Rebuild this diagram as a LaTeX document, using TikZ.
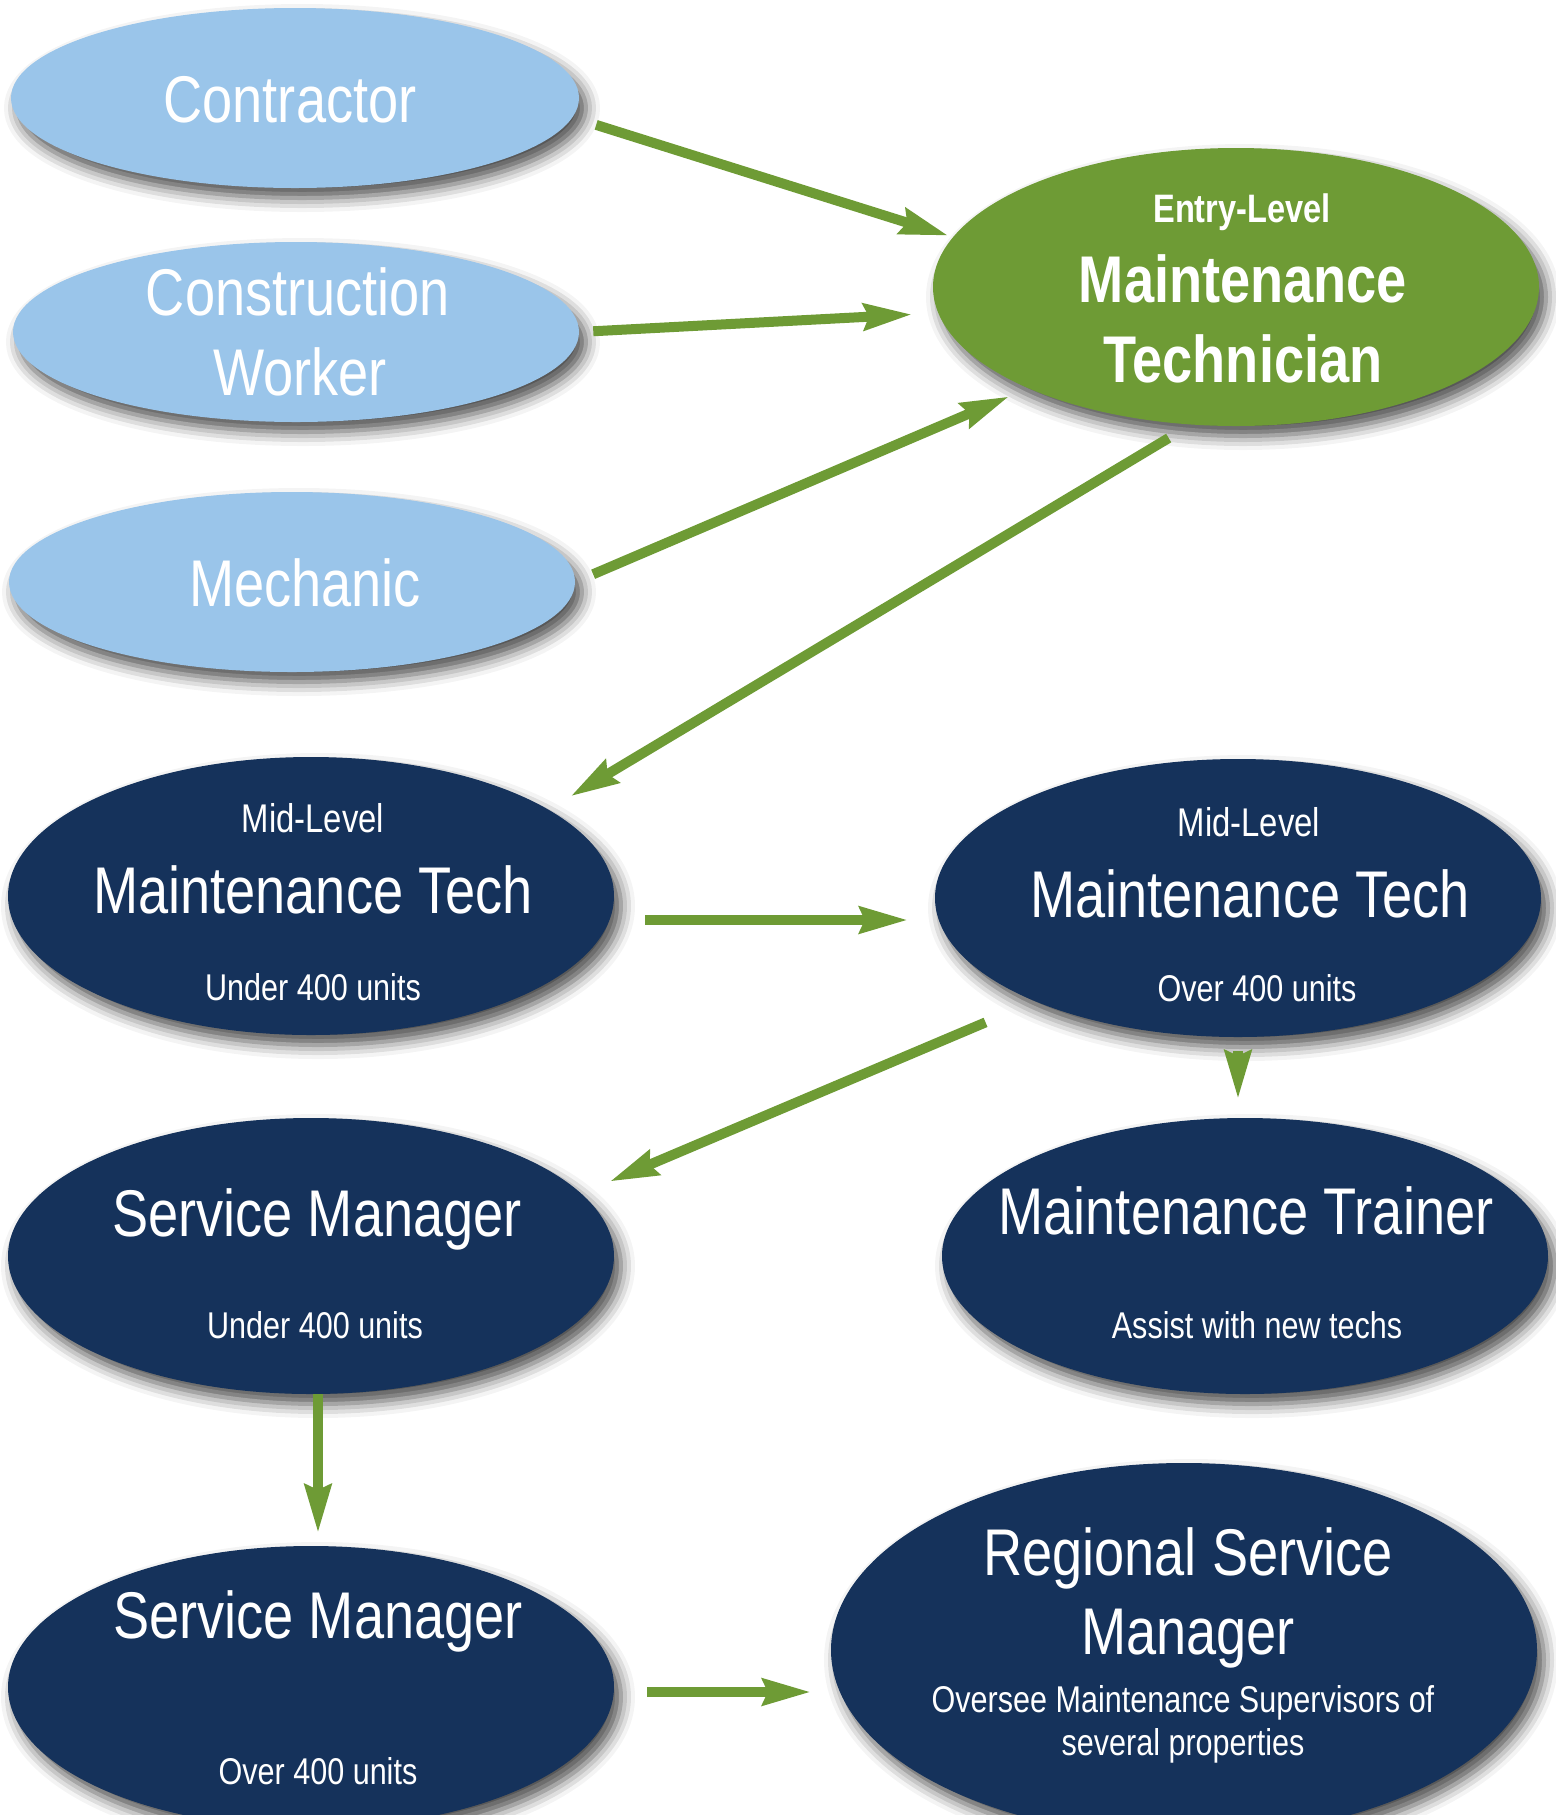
\documentclass[tikz,border=0pt]{standalone}
\usepackage{fontspec}
\setmainfont{Liberation Sans}[FakeStretch=0.82]
\usepackage{tikz}
\usetikzlibrary{arrows.meta,shapes.geometric,shadows.blur}

\definecolor{skyblue}{HTML}{9AC5EA}
\definecolor{leafgreen}{HTML}{6E9B35}
\definecolor{deepnavy}{HTML}{15325B}

\begin{document}
\begin{tikzpicture}[
    bubble/.style={ellipse, inner sep=0pt, outer sep=0pt,
      blur shadow={shadow xshift=0.07cm, shadow yshift=-0.1cm,
        shadow blur radius=0.14cm, shadow opacity=70}},
    big/.style={text=white, inner sep=0pt, anchor=base,
      font=\fontsize{18.8}{22}\selectfont},
    small/.style={text=white, inner sep=0pt, anchor=base,
      font=\fontsize{10.6}{12}\selectfont},
    tiny/.style={text=white, inner sep=0pt, anchor=base,
      font=\fontsize{10.6}{12}\selectfont},
    flow/.style={draw=leafgreen, line width=0.1cm,
      -{Stealth[length=0.48cm,width=0.26cm,inset=0.05cm]}}
  ]

  \useasboundingbox (0,0) rectangle (15.56,-18.15);

  % Draw the entry points
  \node[bubble, fill=skyblue, minimum width=5.68cm, minimum height=1.80cm] (con) at (2.95,-0.98) {};
  \node[bubble, fill=skyblue, minimum width=5.66cm, minimum height=1.80cm] (cons) at (2.96,-3.32) {};
  \node[bubble, fill=skyblue, minimum width=5.66cm, minimum height=1.80cm] (mech) at (2.92,-5.82) {};

  % Draw the career steps
  \node[bubble, fill=leafgreen, minimum width=6.06cm, minimum height=2.78cm] (entry) at (12.36,-2.87) {};
  \node[bubble, fill=deepnavy, minimum width=6.06cm, minimum height=2.78cm] (midlo) at (3.11,-8.96) {};
  \node[bubble, fill=deepnavy, minimum width=6.06cm, minimum height=2.78cm] (midhi) at (12.38,-8.98) {};
  \node[bubble, fill=deepnavy, minimum width=6.06cm, minimum height=2.76cm] (svclo) at (3.11,-12.56) {};
  \node[bubble, fill=deepnavy, minimum width=6.06cm, minimum height=2.76cm] (trainer) at (12.45,-12.56) {};
  \node[bubble, fill=deepnavy, minimum width=6.06cm, minimum height=2.82cm] (svchi) at (3.11,-16.87) {};
  \node[bubble, fill=deepnavy, minimum width=7.06cm, minimum height=3.74cm] (region) at (11.84,-16.50) {};

  % Add the labels
  \node[big] (conA) at (2.90,-1.22) {Contractor};
  \node[big] (consA) at (2.98,-3.15) {Construction};
  \node[big] (consB) at (3.00,-3.95) {Worker};
  \node[big] (mechA) at (3.05,-6.06) {Mechanic};

  \node[small, font=\bfseries\fontsize{11.3}{13}\selectfont] (entryA) at (12.42,-2.22) {Entry-Level};
  \node[big, font=\bfseries\fontsize{18.8}{22}\selectfont] (entryB) at (12.43,-3.02) {Maintenance};
  \node[big, font=\bfseries\fontsize{18.8}{22}\selectfont] (entryC) at (12.43,-3.82) {Technician};

  \node[small, font=\fontsize{11.4}{13}\selectfont] (midloA) at (3.13,-8.32) {Mid-Level};
  \node[big] (midloB) at (3.13,-9.13) {Maintenance Tech};
  \node[small] (midloC) at (3.13,-10.00) {Under 400 units};

  \node[small, font=\fontsize{11.4}{13}\selectfont] (midhiA) at (12.49,-8.36) {Mid-Level};
  \node[big] (midhiB) at (12.50,-9.17) {Maintenance Tech};
  \node[small] (midhiC) at (12.57,-10.01) {Over 400 units};

  \node[big] (svcloA) at (3.17,-12.36) {Service Manager};
  \node[small] (svcloB) at (3.15,-13.38) {Under 400 units};

  \node[big] (trainerA) at (12.46,-12.34) {Maintenance Trainer};
  \node[small] (trainerB) at (12.57,-13.38) {Assist with new techs};

  \node[big] (svchiA) at (3.18,-16.38) {Service Manager};
  \node[small] (svchiB) at (3.18,-17.84) {Over 400 units};

  \node[big] (regionA) at (11.88,-15.75) {Regional Service};
  \node[big] (regionB) at (11.88,-16.54) {Manager};
  \node[tiny] (regionC) at (11.83,-17.12) {Oversee Maintenance Supervisors of};
  \node[tiny] (regionD) at (11.83,-17.55) {several properties};

  % Draw the arrows
  \draw[flow, shorten <=2.5mm, shorten >=0.5mm] (con.-4.95) -- (entry.170.1);
  \draw[flow, shorten <=1.43mm, shorten >=2.63mm] (cons.0.69) -- (entry.-175.05);
  \draw[flow, shorten <=1.97mm, shorten >=2.1mm] (mech.0.67) -- (entry.-154.2);
  \draw[flow, shorten <=2.64mm, shorten >=2.59mm] (entry.-108.3) -- (midlo.20.1);
  \draw[flow, shorten <=3.1mm, shorten >=2.7mm] ([yshift=-0.24cm]midlo.east) -- ([yshift=-0.24cm]midlo.east -| midhi.west);
  \draw[flow, shorten <=5.4mm, shorten >=3.1mm] (midhi.-153.1) -- (svclo.13.4);
  \draw[flow, shorten <=1.4mm, shorten >=1.9mm] (midhi.south) -- (midhi.south |- trainer.north);
  \draw[flow, shorten >=1.3mm] ([xshift=0.07cm]svclo.south) -- ([xshift=0.07cm]svchi.north);
  \draw[flow, shorten <=3.3mm, shorten >=2.0mm] ([yshift=-0.05cm]svchi.east) -- ([yshift=-0.05cm]svchi.east -| region.west);

\end{tikzpicture}
\end{document}
